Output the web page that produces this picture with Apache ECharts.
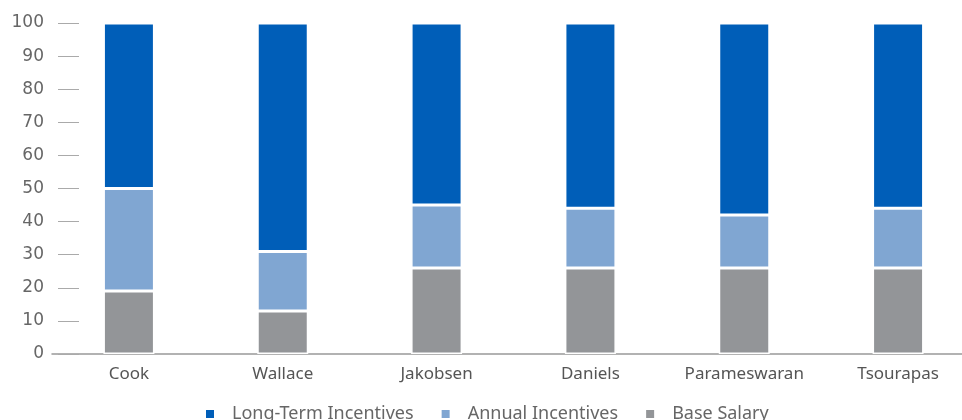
<!DOCTYPE html>
<html>
<head>
<meta charset="utf-8">
<script src="https://cdn.jsdelivr.net/npm/echarts@6/dist/echarts.min.js"></script>
<style>
  html, body { margin: 0; padding: 0; background: #fff; }
  #main { width: 962px; height: 420px; }
</style>
</head>
<body>
<div id="main"></div>
<script>
let names = ['Cook', 'Wallace', 'Jakobsen', 'Daniels', 'Parameswaran', 'Tsourapas'];
let baseSalary = [19, 13, 26, 26, 26, 26];
let annualIncentives = [31, 18, 19, 18, 16, 18];
let longTermIncentives = [50, 69, 55, 56, 58, 56];
let yTicks = [0, 100, 10];

let mainchart = echarts.init(document.getElementById('main'));
let font = 'Noto Sans';

function makeSeries(name, data, color){
    return {
        name: name,
        type: 'bar',
        stack: 'total',
        data: data,
        barWidth: 51,
        itemStyle: {
            color: color,
            borderColor: '#fff',
            borderWidth: 1.5
        }
    };
}

let chart_config = {
    animation: false,
    grid: {
        left: 52,
        width: 923,
        top: 23,
        bottom: 66,
        containLabel: false,
        outerBoundsMode: 'none'
    },
    legend: {
        bottom: -8,
        left: 199,
        itemWidth: 10,
        itemHeight: 10,
        itemGap: 26,
        icon: 'rect',
        textStyle: { color: '#666', fontSize: 18, fontFamily: font, padding: [0, 0, 0, 12] },
        data: ['Long-Term Incentives', 'Annual Incentives', 'Base Salary']
    },
    xAxis: {
        type: 'category',
        data: names,
        axisLine: { lineStyle: { color: '#999', width: 1.5 } },
        axisTick: { show: false },
        axisLabel: { color: '#555', fontSize: 17, fontFamily: font, margin: 12, interval: 0 }
    },
    yAxis: {
        type: 'value',
        min: yTicks[0],
        max: yTicks[1],
        interval: yTicks[2],
        offset: -6,
        axisLine: { show: false },
        axisTick: { show: true, inside: true, length: 21, lineStyle: { color: '#aaa' } },
        splitLine: { show: false },
        axisLabel: { color: '#666', fontSize: 17, fontFamily: 'DejaVu Sans', margin: 14 }
    },
    series: [
        makeSeries('Base Salary', baseSalary, '#939598'),
        makeSeries('Annual Incentives', annualIncentives, '#80A6D2'),
        makeSeries('Long-Term Incentives', longTermIncentives, '#005EB8')
    ]
};
mainchart.setOption(chart_config);
</script>
</body>
</html>
